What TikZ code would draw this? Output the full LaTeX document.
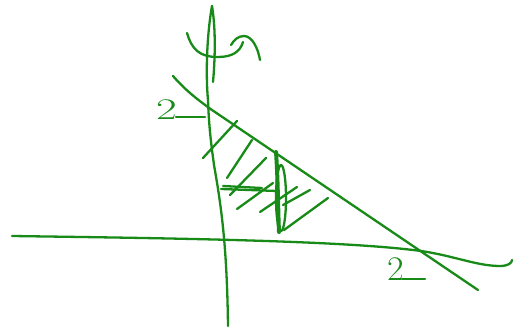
\documentclass[tikz,border=0pt]{standalone}
\usepackage{tikz}
\definecolor{pen}{RGB}{24,138,24}
\tikzset{
  ink/.style={draw=pen,line width=2.3pt,line cap=round,line join=round},
  thick ink/.style={ink,line width=4pt},
  digit/.style={text=pen,font=\fontsize{30}{30}\selectfont,inner sep=0pt}
}
\begin{document}
\begin{tikzpicture}[x=1pt,y=-1pt]
\useasboundingbox (0,0) rectangle (526,331);
% y-axis (with loop at the top)
\draw[ink] (212,6) .. controls (206,40) and (206,80) .. (208,100)
  .. controls (209,130) and (212,150) .. (214,165)
  .. controls (222,210) and (227,250) .. (228,326);
\draw[ink] (212,6) .. controls (216,30) and (215,60) .. (213,82);
% rotation arrow
\draw[ink] (187,33) .. controls (192,50) and (200,57) .. (218,57)
  .. controls (232,57) and (240,52) .. (243,42);
\draw[ink] (231,45) .. controls (234,40) and (238,36) .. (244,36)
  .. controls (252,36) and (258,48) .. (260,60);
% x-axis
\draw[ink] (12,236) .. controls (150,238) and (330,240) .. (413,250)
  .. controls (450,254) and (475,266) .. (500,266)
  .. controls (508,266) and (512,263) .. (512,260);
% hypotenuse
\draw[ink] (173,76) .. controls (185,90) and (198,100) .. (212,110)
  -- (478,290);
% labels
\node[digit,anchor=south west] (l1) at (156,119.5) {\scalebox{1.5}[1]{2}};
\draw[ink] (176,117) -- (205,117);
\node[digit,anchor=south west] (l2) at (387,281) {\scalebox{1.2}[1.15]{2}};
\draw[ink] (402,279) -- (425,279);
% hatching
\draw[ink] (203,158) -- (237,121);
\draw[ink] (227,178) -- (252,140);
\draw[ink] (230,195) -- (266,158);
\draw[ink] (237,209) -- (273,183);
\draw[ink] (260,212) -- (297,187);
\draw[ink] (283,205) -- (310,190);
\draw[ink] (284,230) -- (328,198);
% radius
\draw[ink] (221,189) -- (277,191);
\draw[ink] (223,186) -- (262,188);
% strip
\draw[thick ink] (276,152) .. controls (278,180) and (278,210) .. (279,232);
\draw[ink] (281,198) ellipse [x radius=5, y radius=33];
\end{tikzpicture}
\end{document}
